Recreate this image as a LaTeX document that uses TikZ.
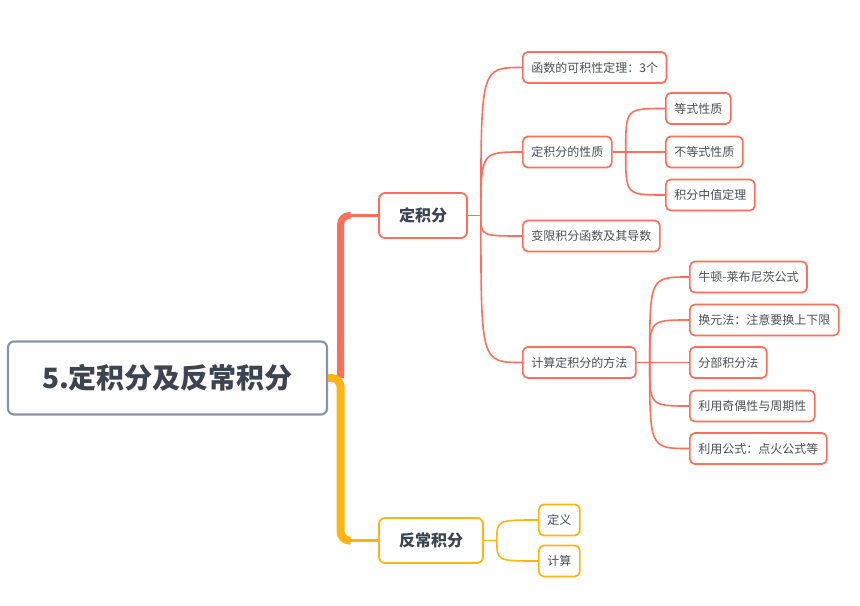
\documentclass[tikz,border=0pt]{standalone}
\usepackage{fontspec}
\setmainfont{Noto Sans CJK SC}
\definecolor{redc}{HTML}{FF6E5C}
\definecolor{yelc}{HTML}{FFB414}
\definecolor{rootc}{HTML}{8795AA}
\definecolor{txt}{HTML}{3B4450}
\definecolor{txtb}{HTML}{4A4F57}
\begin{document}
\begin{tikzpicture}[x=1bp,y=-1bp]
\useasboundingbox (0,0) rectangle (860,606);
\tikzset{
 rootbox/.style={draw=rootc, line width=2.2bp, rounded corners=6bp, fill=white, text=txt, font=\fontsize{28bp}{32bp}\selectfont\bfseries, minimum width=319bp, minimum height=73bp, inner sep=0pt},
 mainbox/.style={draw=#1, line width=1.8bp, rounded corners=6bp, fill=white, text=txt, font=\fontsize{16bp}{19bp}\selectfont\bfseries, minimum height=45bp, inner xsep=20bp, inner ysep=0pt},
 subbox/.style={draw=#1, line width=1.7bp, rounded corners=5bp, fill=white, text=txtb, font=\fontsize{12bp}{14bp}\selectfont, minimum height=31bp, inner xsep=8.5bp, inner ysep=0pt, anchor=west},
 link/.style={draw=#1, line width=1.6bp},
}
% nodes
\node[rootbox] (root) at (167.5,378) {5.定积分及反常积分};
\node[mainbox=redc] (A) at (423,215.5) {定积分};
\node[mainbox=yelc] (B) at (431,540.5) {反常积分};

\node[subbox=redc] (a1) at (522,67.5) {函数的可积性定理：3个};
\node[subbox=redc] (a2) at (522,152) {定积分的性质};
\node[subbox=redc] (a3) at (522,236) {变限积分函数及其导数};
\node[subbox=redc] (a4) at (522,362.5) {计算定积分的方法};

\node[subbox=redc] (b1) at (665,108.5) {等式性质};
\node[subbox=redc] (b2) at (665,152) {不等式性质};
\node[subbox=redc] (b3) at (665,195) {积分中值定理};

\node[subbox=redc] (c1) at (689,277) {牛顿-莱布尼茨公式};
\node[subbox=redc] (c2) at (689,320) {换元法：注意要换上下限};
\node[subbox=redc] (c3) at (689,362.5) {分部积分法};
\node[subbox=redc] (c4) at (689,406) {利用奇偶性与周期性};
\node[subbox=redc] (c5) at (689,448.5) {利用公式：点火公式等};

\node[subbox=yelc] (d1) at (538,520) {定义};
\node[subbox=yelc] (d2) at (538,561) {计算};

% trunk from root
\coordinate (trunk) at ([xshift=12.5bp]root.east);
\draw[redc, line width=7bp, rounded corners=9bp] (trunk) -- (trunk |- A.west) -- ([xshift=10bp]trunk |- A.west);
\draw[redc, line width=2.2bp] ([xshift=8bp]trunk |- A.west) -- (A.west);
\draw[yelc, line width=8bp, rounded corners=9bp] (root.east) -- (trunk) -- (trunk |- B.west) -- ([xshift=10bp]trunk |- B.west);
\draw[yelc, line width=2.2bp] ([xshift=8bp]trunk |- B.west) -- (B.west);

% forks
\coordinate (fA) at ([xshift=13bp]A.east);
\coordinate (fa2) at ([xshift=13bp]a2.east);
\coordinate (fa4) at ([xshift=13bp]a4.east);
\coordinate (fB) at ([xshift=13bp]B.east);

\draw[link=redc] (A.east) -- (fA);
\foreach \c in {a1,a2,a3,a4}
  \draw[link=redc] (fA) .. controls (fA |- \c.west) .. (\c.west);

\draw[link=redc] (a2.east) -- (fa2);
\foreach \c in {b1,b2,b3}
  \draw[link=redc] (fa2) .. controls (fa2 |- \c.west) .. (\c.west);

\draw[link=redc] (a4.east) -- (fa4);
\foreach \c in {c1,c2,c3,c4,c5}
  \draw[link=redc] (fa4) .. controls (fa4 |- \c.west) .. (\c.west);

\draw[link=yelc] (B.east) -- (fB);
\foreach \c in {d1,d2}
  \draw[link=yelc] (fB) .. controls (fB |- \c.west) .. (\c.west);
\end{tikzpicture}
\end{document}
